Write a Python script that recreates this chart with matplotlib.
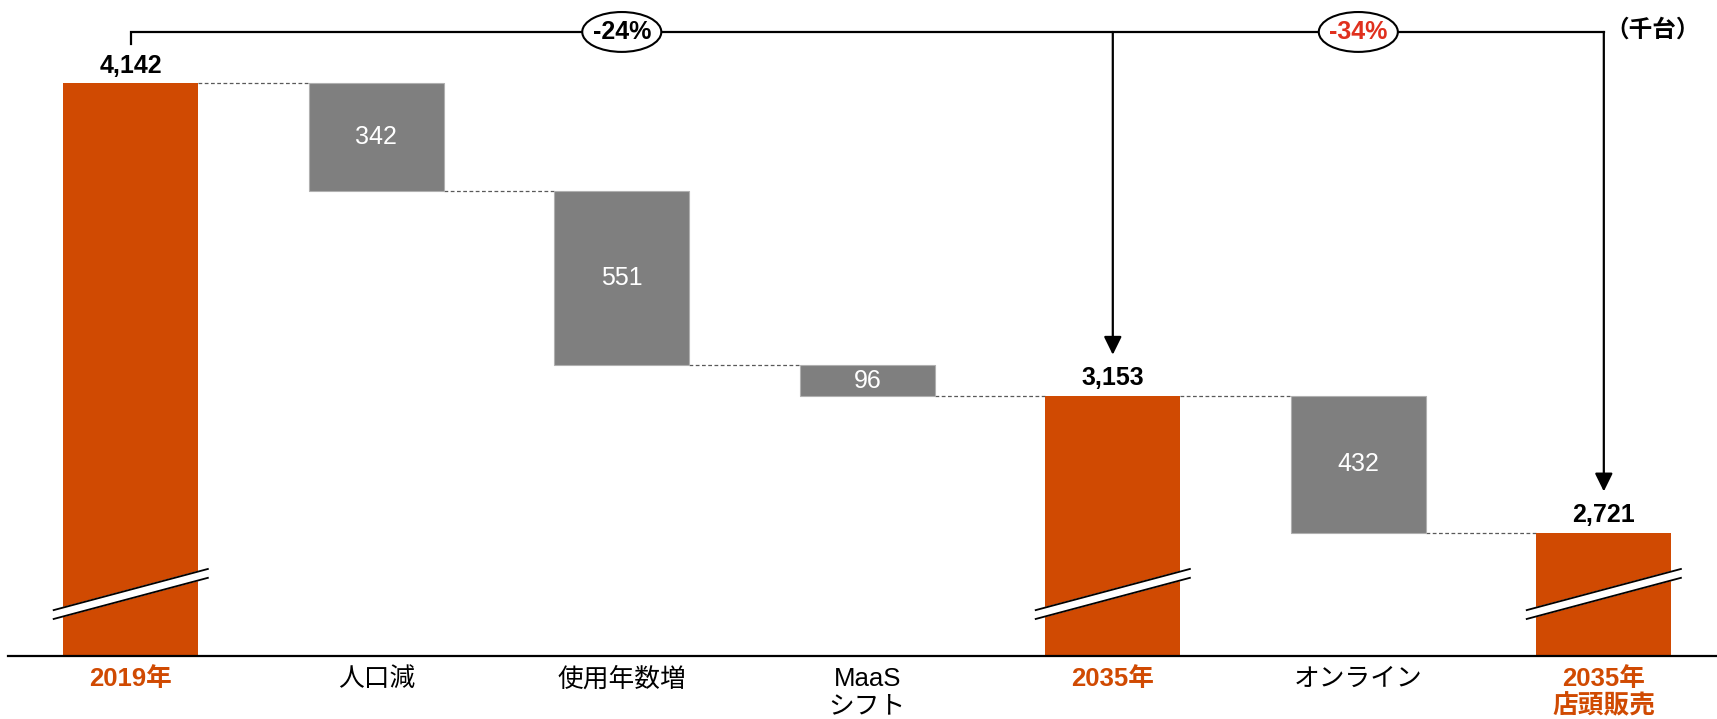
import matplotlib
matplotlib.use("Agg")
import matplotlib.pyplot as plt
from matplotlib.patches import Ellipse
from matplotlib import font_manager

plt.rcParams['font.family'] = ['Liberation Sans', 'Noto Sans CJK JP']

# data
categories = ['2019年', '人口減', '使用年数増', 'MaaS\nシフト', '2035年', 'オンライン', '2035年\n店頭販売']
values = [4142, -342, -551, -96, 3153, -432, 2721]
is_total = [True, False, False, False, True, False, True]
change_labels = ['-24%', '-34%']
unit_label = '（千台）'

orange = '#D04A02'
gray = '#7F7F7F'
red = '#E0301E'

y_min, y_max = 2331, 4404
bar_w = 0.55

narrow = 'Liberation Sans Narrow'
names = {f.name for f in font_manager.fontManager.ttflist}
if narrow not in names:
    narrow = 'Liberation Sans'

fig = plt.figure(figsize=(17.17, 7.19), dpi=100)
ax = fig.add_axes([8 / 1717, 63 / 719, 1 - 8 / 1717, 656 / 719])
ax.set_xlim(-0.5, 6.461)
ax.set_ylim(y_min, y_max)

# waterfall bars
level = 0
ends = []
for i, (v, tot) in enumerate(zip(values, is_total)):
    if tot:
        level = v
        ax.bar(i, v - y_min, bottom=y_min, width=bar_w, color=orange, zorder=2)
        ax.text(i, v + 55, f'{v:,}', ha='center', va='center',
                fontsize=18, fontweight='bold', color='black')
        # axis break mark
        xs = [i - 0.314, i + 0.314]
        yc = [2462, 2592]
        off = 14
        ax.fill([xs[0], xs[1], xs[1], xs[0]],
                [yc[0] + off, yc[1] + off, yc[1] - off, yc[0] - off],
                color='white', zorder=3, clip_on=False)
        ax.plot(xs, [yc[0] + off, yc[1] + off], color='black', lw=1.3, zorder=4)
        ax.plot(xs, [yc[0] - off, yc[1] - off], color='black', lw=1.3, zorder=4)
    else:
        top = level
        level = level + v
        ax.bar(i, -v, bottom=level, width=bar_w, color=gray,
               edgecolor='#B0B0B0', linewidth=0.8, zorder=2)
        ax.text(i, (top + level) / 2, f'{-v}', ha='center', va='center',
                fontsize=18, color='white', zorder=3)
    ends.append(level)

# dashed connectors
for i in range(len(values) - 1):
    ax.plot([i + bar_w / 2, i + 1 - bar_w / 2], [ends[i], ends[i]],
            color='#595959', lw=0.9, ls=(0, (3, 2)), zorder=1)

# brackets and arrows
y_br = 4303
ax.plot([0, 0, 6], [4265, y_br, y_br], color='black', lw=1.6, zorder=5,
        clip_on=False, solid_joinstyle='miter')
for xi in (4, 6):
    ax.annotate('', xy=(xi, values[xi] + 130), xytext=(xi, y_br),
                arrowprops=dict(arrowstyle='-|>,head_length=0.55,head_width=0.27',
                                mutation_scale=20, lw=1.6, color='black',
                                shrinkA=0, shrinkB=0), zorder=5)

for xi, lab, col, fam in [(2, change_labels[0], 'black', narrow),
                          (5, change_labels[1], red, 'Liberation Sans')]:
    ax.add_patch(Ellipse((xi, y_br), 0.322, 126, facecolor='white',
                         edgecolor='black', lw=1.5, zorder=6, clip_on=False))
    ax.text(xi, y_br, lab, ha='center', va='center', fontsize=18,
            fontweight='bold', color=col, family=fam, zorder=7)

ax.text(6.197, y_br + 5, unit_label, ha='center', va='center', fontsize=17,
        fontweight='bold', color='black')

# axes styling
for s in ('top', 'right', 'left'):
    ax.spines[s].set_visible(False)
ax.spines['bottom'].set_linewidth(1.6)
ax.set_yticks([])
ax.set_xticks(range(len(categories)))
ax.set_xticklabels(categories, fontsize=18.5, linespacing=1.15)
ax.tick_params(axis='x', length=0, pad=8)
for lab, tot in zip(ax.get_xticklabels(), is_total):
    if tot:
        lab.set_color(orange)
        lab.set_fontweight('bold')

fig.savefig('out.png', dpi=100)
